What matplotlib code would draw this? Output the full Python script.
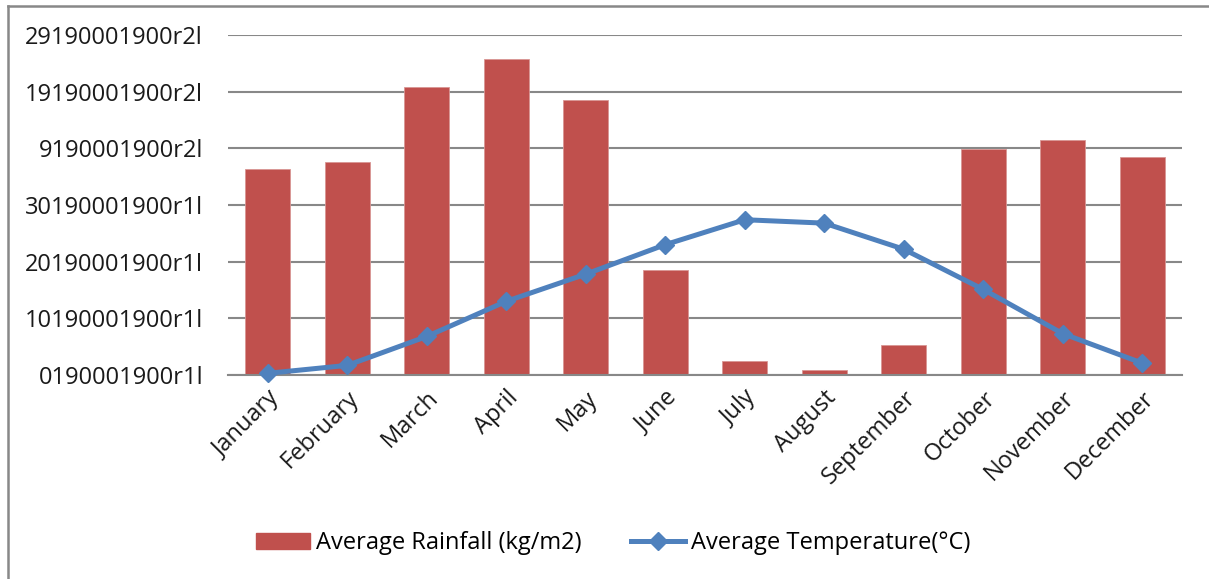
import matplotlib
matplotlib.use("Agg")
import matplotlib.pyplot as plt
from matplotlib.lines import Line2D
from matplotlib.patches import Patch
import numpy as np

months = ["January", "February", "March", "April", "May", "June", "July",
          "August", "September", "October", "November", "December"]
rainfall = [3.63, 3.76, 5.09, 5.57, 4.85, 1.86, 0.24, 0.09, 0.53, 3.99, 4.15, 3.84]
temperature = [0.03, 0.17, 0.68, 1.30, 1.78, 2.30, 2.74, 2.68, 2.22, 1.51, 0.73, 0.21]
ytick_values = [0, 1, 2, 3, 4, 5, 6]
ytick_labels = ["0190001900r1l", "10190001900r1l", "20190001900r1l", "30190001900r1l",
                "9190001900r2l", "19190001900r2l", "29190001900r2l"]
series_names = ["Average Rainfall (kg/m2)", "Average Temperature(°C)"]

FONT = ["Open Sans", "DejaVu Sans"]
plt.rcParams['font.family'] = FONT
FS = 17

W, H = 1209, 579
fig = plt.figure(figsize=(W / 100, H / 100), dpi=100)
ax = fig.add_axes([228 / W, 1 - 375 / H, (1182 - 228) / W, (375 - 35) / H])

x = np.arange(len(months))
bars = ax.bar(x, rainfall, width=0.57, color="#C0504D", edgecolor="#D99694",
              linewidth=0.6, zorder=2)
line, = ax.plot(x, temperature, color="#4F81BD", linewidth=3.6, marker="D",
                markersize=9, markerfacecolor="#4F81BD", markeredgecolor="#4F81BD",
                zorder=3, clip_on=False)

ax.set_xlim(-0.5, len(months) - 0.5)
ax.set_ylim(0, 6)
ax.set_yticks(ytick_values)
ax.set_yticklabels(ytick_labels, fontsize=FS, color="#1a1a1a")
ax.set_xticks(x)
ax.set_xticklabels(months, fontsize=FS, rotation=45, ha="right",
                   rotation_mode="anchor", color="#1a1a1a")
ax.tick_params(axis="y", length=0, pad=18)
ax.tick_params(axis="x", length=0, pad=8)
ax.yaxis.grid(True, color="#888888", linewidth=1.5, zorder=1)
ax.set_axisbelow(True)
for s in ["left", "right", "top"]:
    ax.spines[s].set_visible(False)
ax.spines["bottom"].set_color("#888888")
ax.spines["bottom"].set_linewidth(1.5)

handles = [Patch(facecolor="#C0504D", edgecolor="#C0504D"),
           Line2D([0], [0], color="#4F81BD", linewidth=3.6, marker="D",
                  markersize=9)]
fig.legend(handles, series_names, loc="center", bbox_to_anchor=(613 / W, 1 - 543 / H),
           ncol=2, frameon=False, fontsize=FS, handlelength=2.3, handleheight=0.65,
           handletextpad=0.25, columnspacing=2.1)

# outer chart border (partially visible)
fig.add_artist(Line2D([7.5 / W, 7.5 / W], [0, 1 - 5.5 / H], transform=fig.transFigure,
                      color="#888888", linewidth=1.8))
fig.add_artist(Line2D([7.5 / W, 1], [1 - 5.5 / H, 1 - 5.5 / H], transform=fig.transFigure,
                      color="#888888", linewidth=1.8))

fig.savefig("out.png", dpi=100)
